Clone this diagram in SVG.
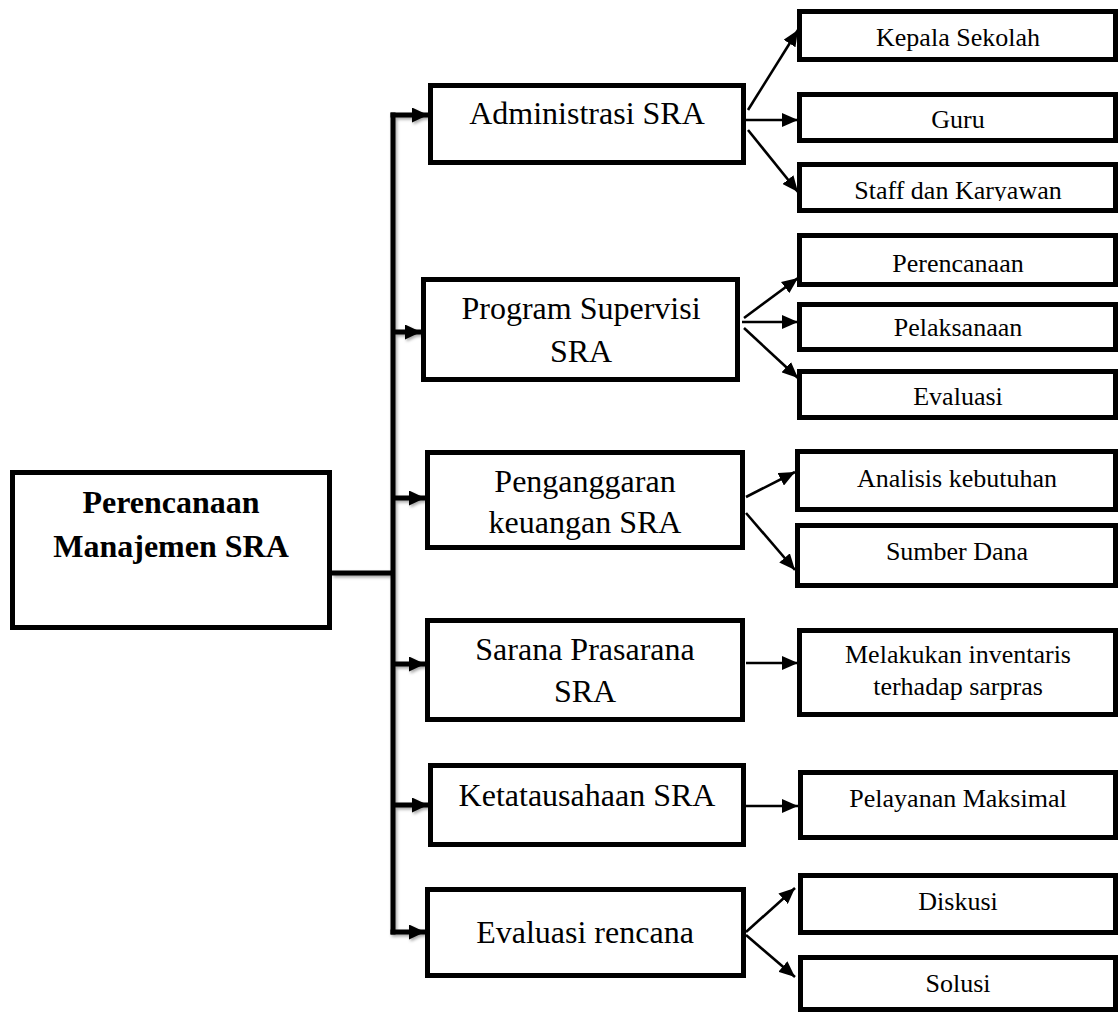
<svg xmlns="http://www.w3.org/2000/svg" width="1120" height="1014" viewBox="0 0 1120 1014">
  <style>
    .box { fill: #ffffff; stroke: #000000; stroke-width: 5; }
    .t { font-family: "Liberation Serif", "Times New Roman", serif; fill: #000000; text-anchor: middle; }
    .main { font-size: 32px; font-weight: bold; }
    .mid { font-size: 32px; }
    .leaf { font-size: 26px; }
    .trunk { fill: none; stroke: #000000; stroke-width: 5; }
    .branch { fill: none; stroke: #000000; stroke-width: 2.6; }
  </style>
  <defs>
    <marker id="headBig" markerUnits="userSpaceOnUse" markerWidth="16" markerHeight="15" refX="16" refY="7.5" orient="auto">
      <path d="M0,0 L16,7.5 L0,15 Z" fill="#000000"/>
    </marker>
    <marker id="headSmall" markerUnits="userSpaceOnUse" markerWidth="16" markerHeight="14" refX="16" refY="7" orient="auto">
      <path d="M0,0 L16,7 L0,14 Z" fill="#000000"/>
    </marker>
    <filter id="soft" x="-20%" y="-5%" width="140%" height="110%">
      <feDropShadow dx="1.5" dy="2" stdDeviation="1.5" flood-color="#000000" flood-opacity="0.35"/>
    </filter>
    <clipPath id="clipStaff">
      <rect x="800" y="160" width="316" height="41"/>
    </clipPath>
  </defs>

  <!-- connectors -->
  <g id="connectors">
    <g filter="url(#soft)">
      <line class="trunk" x1="332" y1="573" x2="393" y2="573"/>
      <line class="trunk" x1="393" y1="112.5" x2="393" y2="934.5"/>
      <line class="trunk" x1="390.5" y1="115" x2="428" y2="115" marker-end="url(#headBig)"/>
      <line class="trunk" x1="393" y1="332" x2="421" y2="332" marker-end="url(#headBig)"/>
      <line class="trunk" x1="393" y1="498" x2="425" y2="498" marker-end="url(#headBig)"/>
      <line class="trunk" x1="393" y1="664" x2="425" y2="664" marker-end="url(#headBig)"/>
      <line class="trunk" x1="393" y1="805" x2="428" y2="805" marker-end="url(#headBig)"/>
      <line class="trunk" x1="390.5" y1="932" x2="425" y2="932" marker-end="url(#headBig)"/>
    </g>
    <!-- Administrasi -->
    <line class="branch" x1="748" y1="110" x2="798" y2="30" marker-end="url(#headSmall)"/>
    <line class="branch" x1="744" y1="120" x2="798" y2="120" marker-end="url(#headSmall)"/>
    <line class="branch" x1="748" y1="130" x2="798" y2="192" marker-end="url(#headSmall)"/>
    <!-- Program Supervisi -->
    <line class="branch" x1="744" y1="318" x2="798" y2="278" marker-end="url(#headSmall)"/>
    <line class="branch" x1="742" y1="322" x2="798" y2="322" marker-end="url(#headSmall)"/>
    <line class="branch" x1="744" y1="328" x2="798" y2="378" marker-end="url(#headSmall)"/>
    <!-- Penganggaran -->
    <line class="branch" x1="746" y1="497" x2="795" y2="472" marker-end="url(#headSmall)"/>
    <line class="branch" x1="746" y1="513" x2="795" y2="570" marker-end="url(#headSmall)"/>
    <!-- Sarana -->
    <line class="branch" x1="746" y1="663" x2="798" y2="663" marker-end="url(#headSmall)"/>
    <!-- Ketatausahaan -->
    <line class="branch" x1="746" y1="806" x2="798" y2="806" marker-end="url(#headSmall)"/>
    <!-- Evaluasi rencana -->
    <line class="branch" x1="746" y1="932" x2="795" y2="888" marker-end="url(#headSmall)"/>
    <line class="branch" x1="746" y1="935" x2="795" y2="977" marker-end="url(#headSmall)"/>
  </g>

  <!-- root -->
  <g id="perencanaan-manajemen">
    <rect class="box" x="12.5" y="472.5" width="317" height="155"/>
    <text class="t main" x="171" y="513">Perencanaan</text>
    <text class="t main" x="171" y="557">Manajemen SRA</text>
  </g>

  <!-- second level -->
  <g id="administrasi">
    <rect class="box" x="430.5" y="85.5" width="313" height="77"/>
    <text class="t mid" x="587" y="124">Administrasi SRA</text>
  </g>
  <g id="program-supervisi">
    <rect class="box" x="423.5" y="279.5" width="314" height="100"/>
    <text class="t mid" x="581" y="319">Program Supervisi</text>
    <text class="t mid" x="581" y="362">SRA</text>
  </g>
  <g id="penganggaran">
    <rect class="box" x="427.5" y="452.5" width="315" height="95"/>
    <text class="t mid" x="585" y="492">Penganggaran</text>
    <text class="t mid" x="585" y="533">keuangan SRA</text>
  </g>
  <g id="sarana-prasarana">
    <rect class="box" x="427.5" y="620.5" width="315" height="99"/>
    <text class="t mid" x="585" y="660">Sarana Prasarana</text>
    <text class="t mid" x="585" y="702">SRA</text>
  </g>
  <g id="ketatausahaan">
    <rect class="box" x="430.5" y="765.5" width="313" height="79"/>
    <text class="t mid" x="587" y="806">Ketatausahaan SRA</text>
  </g>
  <g id="evaluasi-rencana">
    <rect class="box" x="427.5" y="889.5" width="316" height="86"/>
    <text class="t mid" x="585" y="943">Evaluasi rencana</text>
  </g>

  <!-- third level -->
  <g id="kepala-sekolah">
    <rect class="box" x="799.5" y="11.5" width="316" height="48"/>
    <text class="t leaf" x="958" y="46">Kepala Sekolah</text>
  </g>
  <g id="guru">
    <rect class="box" x="799.5" y="94.5" width="316" height="46"/>
    <text class="t leaf" x="958" y="128">Guru</text>
  </g>
  <g id="staff-karyawan">
    <rect class="box" x="799.5" y="164.5" width="316" height="46"/>
    <text class="t leaf" x="958" y="199" clip-path="url(#clipStaff)">Staff dan Karyawan</text>
  </g>
  <g id="perencanaan">
    <rect class="box" x="799.5" y="235.5" width="316" height="49"/>
    <text class="t leaf" x="958" y="272">Perencanaan</text>
  </g>
  <g id="pelaksanaan">
    <rect class="box" x="799.5" y="304.5" width="316" height="45"/>
    <text class="t leaf" x="958" y="336">Pelaksanaan</text>
  </g>
  <g id="evaluasi">
    <rect class="box" x="799.5" y="371.5" width="316" height="46"/>
    <text class="t leaf" x="958" y="405">Evaluasi</text>
  </g>
  <g id="analisis-kebutuhan">
    <rect class="box" x="797.5" y="451.5" width="318" height="58"/>
    <text class="t leaf" x="957" y="487">Analisis kebutuhan</text>
  </g>
  <g id="sumber-dana">
    <rect class="box" x="797.5" y="525.5" width="318" height="60"/>
    <text class="t leaf" x="957" y="560">Sumber Dana</text>
  </g>
  <g id="inventaris-sarpras">
    <rect class="box" x="799.5" y="630.5" width="316" height="84"/>
    <text class="t leaf" x="958" y="663">Melakukan inventaris</text>
    <text class="t leaf" x="958" y="695">terhadap sarpras</text>
  </g>
  <g id="pelayanan-maksimal">
    <rect class="box" x="800.5" y="772.5" width="315" height="65"/>
    <text class="t leaf" x="958" y="807">Pelayanan Maksimal</text>
  </g>
  <g id="diskusi">
    <rect class="box" x="800.5" y="875.5" width="315" height="57"/>
    <text class="t leaf" x="958" y="910">Diskusi</text>
  </g>
  <g id="solusi">
    <rect class="box" x="800.5" y="957.5" width="315" height="52"/>
    <text class="t leaf" x="958" y="992">Solusi</text>
  </g>
</svg>
